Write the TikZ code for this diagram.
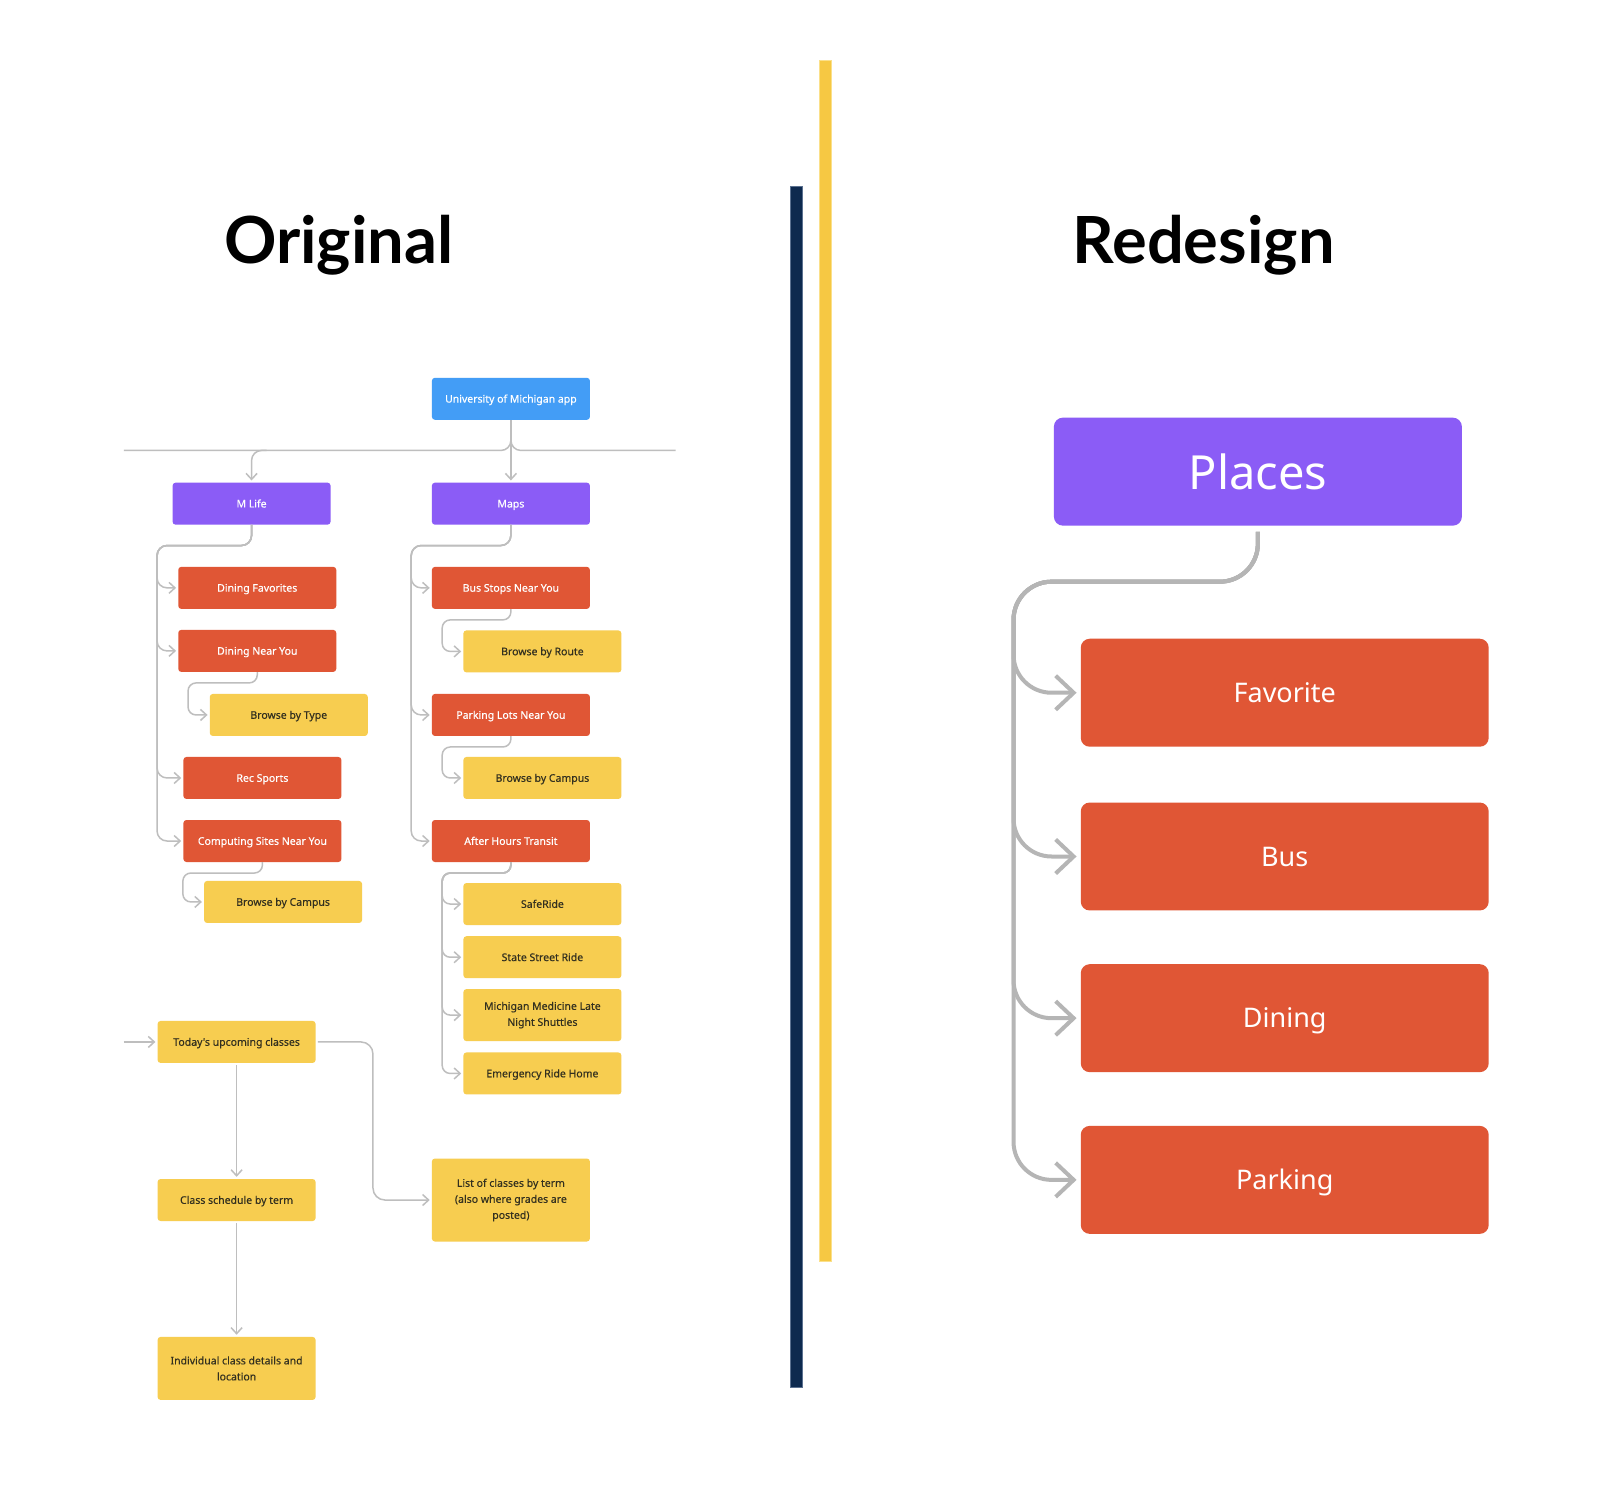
\documentclass[tikz,border=0pt]{standalone}
\usepackage{fontspec}
\setmainfont{Noto Sans}
\newfontfamily\titlefont{Lato}
\newfontfamily\boxfont{Noto Sans}[FakeBold=0.4]
\usetikzlibrary{arrows.meta}
\definecolor{ublue}{HTML}{439DF6}
\definecolor{upurple}{HTML}{8B5CF6}
\definecolor{ured}{HTML}{E05635}
\definecolor{uyellow}{HTML}{F7CD50}
\definecolor{utext}{HTML}{33301F}
\definecolor{ugray}{HTML}{BEBEBE}
\definecolor{ugraybig}{HTML}{B5B5B5}
\definecolor{unavy}{HTML}{0E2A4F}
\definecolor{unavyedge}{HTML}{5B7190}
\definecolor{ubar}{HTML}{F6C843}
\definecolor{ubaredge}{HTML}{FBE08A}
\tikzset{
  box/.style={rectangle, rounded corners=3pt, minimum width=158pt, minimum height=42pt,
    inner sep=2pt, align=center, text=white, text height=7.6pt, text depth=0pt,
    font=\boxfont\fontsize{10.5}{16}\selectfont},
  multiline/.style={text height={}, text depth={}},
  bluebox/.style={box, fill=ublue},
  purplebox/.style={box, fill=upurple},
  redbox/.style={box, fill=ured},
  yelbox/.style={box, fill=uyellow, text=utext},
  bigbox/.style={rectangle, rounded corners=9pt, minimum width=408pt, minimum height=108pt,
    text=white, fill=ured, text height=19.5pt, text depth=0pt,
    font=\fontsize{27}{32}\selectfont},
  conn/.style={draw=ugray, line width=1.5pt, rounded corners=10pt},
  tip/.style={-{Straight Barb[length=6pt,width=11pt]}, shorten >=2pt},
  bigconn/.style={draw=ugraybig, line width=4pt, rounded corners=38pt},
  bigtip/.style={-{Straight Barb[length=18pt,width=34pt]}, shorten >=4pt},
  titletext/.style={font=\titlefont\bfseries\fontsize{65}{70}\selectfont, anchor=base}
}
\begin{document}
\begin{tikzpicture}[x=1.0332pt,y=-1.0332pt]
\fill[white] (0,0) rectangle (1568,1442);
\useasboundingbox (0,0) rectangle (1568,1442);

% titles
\node[titletext] (torig) at (328,255.5) {Original};
\node[titletext] (tred) at (1165,255.5) {Redesign};

% divider bars
\filldraw[fill=unavy, draw=unavyedge, line width=0.8pt] (765,180) rectangle (777,1343);
\filldraw[fill=ubar, draw=ubaredge, line width=0.8pt] (793,58) rectangle (805,1221);

% ---------- Original ----------
\node[bluebox] (univ) at (494.5,386) {University of Michigan app};
\node[purplebox] (mlife) at (243.5,487.5) {M Life};
\node[purplebox] (maps) at (494.5,487.5) {Maps};

\node[redbox] (dfav) at (249,569) {Dining Favorites};
\node[redbox] (dnear) at (249,630) {Dining Near You};
\node[yelbox] (btype) at (279.5,692) {Browse by Type};
\node[redbox] (rec) at (254,753) {Rec Sports};
\node[redbox] (comp) at (254,814) {Computing Sites Near You};
\node[yelbox] (bcampL) at (274,873) {Browse by Campus};

\node[redbox] (bus) at (494.5,569) {Bus Stops Near You};
\node[yelbox] (broute) at (525,630.5) {Browse by Route};
\node[redbox] (park) at (494.5,692) {Parking Lots Near You};
\node[yelbox] (bcampR) at (525,753) {Browse by Campus};
\node[redbox] (after) at (494.5,814) {After Hours Transit};
\node[yelbox] (safe) at (525,875) {SafeRide};
\node[yelbox] (state) at (525,926.5) {State Street Ride};
\node[yelbox, multiline, minimum height=52pt] (mich) at (525,982.5) {Michigan Medicine Late\\Night Shuttles};
\node[yelbox] (emerg) at (525,1039) {Emergency Ride Home};

\node[yelbox] (today) at (229,1008.5) {Today's upcoming classes};
\node[yelbox] (sched) at (229,1161.5) {Class schedule by term};
\node[yelbox, multiline, minimum height=63pt] (indiv) at (229,1324.5) {Individual class details and\\location};
\node[yelbox, multiline, minimum height=83pt] (list) at (494.5,1161.5) {List of classes by term\\(also where grades are\\posted)};

% top connectors
\coordinate (lineL) at (120,436);
\coordinate (lineR) at (654,436);
\coordinate (mlbranch) at (258,436);
\draw[conn] (univ.south) |- (lineL);
\draw[conn] (univ.south) |- (lineR);
\draw[conn, tip] (univ.south) -- (maps.north);
\draw[conn, tip] (mlbranch) -| (mlife.north);

% M Life children
\draw[conn, tip] (mlife.south) |- (152,528) |- (dfav.west);
\draw[conn, tip] (mlife.south) |- (152,528) |- (dnear.west);
\draw[conn, tip] (mlife.south) |- (152,528) |- (rec.west);
\draw[conn, tip] (mlife.south) |- (152,528) |- (comp.west);
\draw[conn, rounded corners=8pt, tip] (dnear.south) |- (182,661) |- (btype.west);
\draw[conn, rounded corners=8pt, tip] (comp.south) |- (177,845) |- (bcampL.west);

% Maps children
\draw[conn, tip] (maps.south) |- (398,528) |- (bus.west);
\draw[conn, tip] (maps.south) |- (398,528) |- (park.west);
\draw[conn, tip] (maps.south) |- (398,528) |- (after.west);
\draw[conn, rounded corners=8pt, tip] (bus.south) |- (428,600) |- (broute.west);
\draw[conn, rounded corners=8pt, tip] (park.south) |- (428,723) |- (bcampR.west);
\draw[conn, rounded corners=8pt, tip] (after.south) |- (428,845) |- (safe.west);
\draw[conn, rounded corners=8pt, tip] (after.south) |- (428,845) |- (state.west);
\draw[conn, rounded corners=8pt, tip] (after.south) |- (428,845) |- (mich.west);
\draw[conn, rounded corners=8pt, tip] (after.south) |- (428,845) |- (emerg.west);

% classes
\coordinate (inL) at (120,1008.5);
\coordinate (tl) at (361,1008.5);
\draw[conn, tip] (inL) -- (today.west);
\draw[conn, tip, shorten <=2pt] (today.south) -- (sched.north);
\draw[conn, tip, shorten <=2pt] (sched.south) -- (indiv.north);
\draw[conn, rounded corners=12pt, tip, shorten <=2pt] (today.east) -- (tl) |- (list.west);

% ---------- Redesign ----------
\node[rectangle, rounded corners=9pt, minimum width=408pt, minimum height=108pt, fill=upurple,
  text=white, font=\fontsize{47}{52}\selectfont] (places) at (1217.5,456.5) {Places};
\node[bigbox] (fav) at (1243.5,670.5) {Favorite};
\node[bigbox] (busR) at (1243.5,829) {Bus};
\node[bigbox] (din) at (1243.5,985.5) {Dining};
\node[bigbox] (parkR) at (1243.5,1142) {Parking};

\draw[bigconn, bigtip, shorten <=6pt] (places.south) |- (981,563) |- (fav.west);
\draw[bigconn, bigtip, shorten <=6pt] (places.south) |- (981,563) |- (busR.west);
\draw[bigconn, bigtip, shorten <=6pt] (places.south) |- (981,563) |- (din.west);
\draw[bigconn, bigtip, shorten <=6pt] (places.south) |- (981,563) |- (parkR.west);
\end{tikzpicture}
\end{document}
